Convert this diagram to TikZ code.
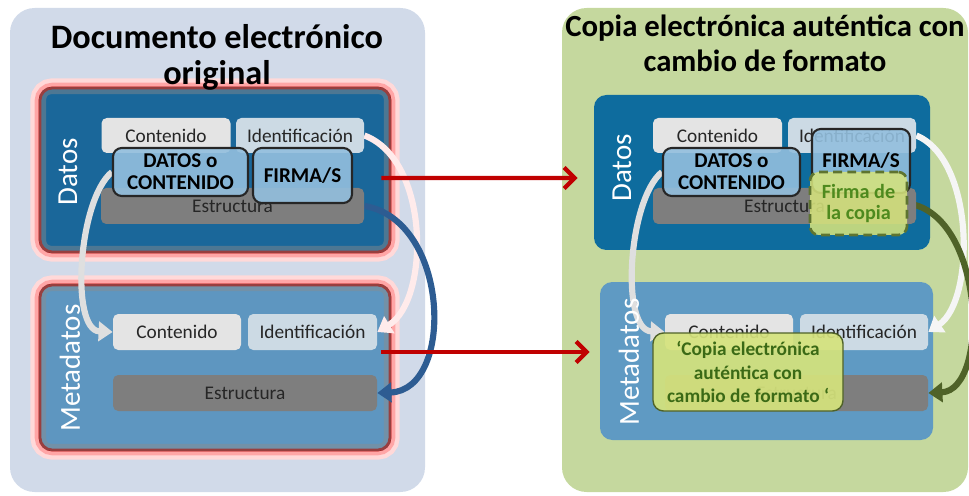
\documentclass[tikz,border=0pt]{standalone}
\usepackage{fontspec}
\setmainfont{Carlito}
\usetikzlibrary{arrows.meta,positioning}

\pgfdeclarelayer{back}
\pgfdeclarelayer{arcs}
\pgfsetlayers{back,arcs,main}

\definecolor{panelL}{HTML}{D1DAE9}
\definecolor{panelR}{HTML}{C5D89E}
\definecolor{datosL}{HTML}{1A679A}
\definecolor{metaL}{HTML}{5E96C0}
\definecolor{datosR}{HTML}{0E6C9E}
\definecolor{metaR}{HTML}{5F9AC3}
\definecolor{contgray}{HTML}{E4E4E4}
\definecolor{identblue}{HTML}{CCDAE4}
\definecolor{estrgray}{HTML}{7E7E7E}
\definecolor{datoblue}{HTML}{93BFDE}
\definecolor{redline}{HTML}{C00000}
\definecolor{sigfill}{HTML}{D5E37C}
\definecolor{sigline}{HTML}{5E7430}
\definecolor{sigtext}{HTML}{4E8A1E}
\definecolor{notetext}{HTML}{3B6A16}
\definecolor{bluearc}{HTML}{2D5C92}
\definecolor{greenarc}{HTML}{4F6228}

\tikzset{
  wh/.style 2 args={minimum width=#1*0.02cm, minimum height=#2*0.02cm},
  panel/.style={rounded corners=14pt, inner sep=0pt},
  title/.style={font=\bfseries, align=center, anchor=base, inner sep=0pt},
  redbox/.style={rounded corners=7pt, inner sep=0pt, draw=redline!85!black, line width=1.6pt,
    preaction={draw=red!15, line width=11pt},
    preaction={draw=red!35, line width=6pt}},
  ring/.style={draw=black!45, opacity=0.45, line width=4pt, rounded corners=5pt},
  flatbox/.style={rounded corners=7pt, inner sep=0pt},
  side/.style={rotate=90, text=white, font=\fontsize{16.5}{18}\selectfont, inner sep=0pt},
  box/.style={rounded corners=3pt, inner sep=0pt, text=black!85, font=\fontsize{11}{13}\selectfont},
  cont/.style={box, fill=contgray},
  ident/.style={box, fill=identblue},
  estr/.style={box, fill=estrgray},
  bigbox/.style={rounded corners=5pt, draw=black!85, line width=1.2pt, fill=datoblue,
    fill opacity=0.9, text opacity=1, align=center, inner sep=0pt,
    font=\bfseries\fontsize{12}{12.5}\selectfont},
  newsig/.style={rounded corners=5pt, draw=sigline, dashed, dash pattern=on 5pt off 3pt,
    line width=1.5pt, fill=sigfill, fill opacity=0.88, text opacity=1, text=sigtext,
    align=center, inner sep=0pt, font=\bfseries\fontsize{11.5}{12.5}\selectfont},
  newmeta/.style={rounded corners=6pt, draw=greenarc, line width=0.8pt, fill=sigfill,
    fill opacity=0.92, text opacity=1, text=notetext, align=center, inner sep=0pt,
    font=\bfseries\fontsize{11}{13.3}\selectfont},
  arc/.style={line width=3.5pt, -{Triangle[length=8pt,width=11pt]}},
  redarrow/.style={draw=redline, line width=2.4pt, -{Straight Barb[length=6pt,width=12pt]}}
}

\begin{document}
\begin{tikzpicture}[x=0.02cm, y=-0.02cm]
\useasboundingbox (0,0) rectangle (969,496);

\begin{pgfonlayer}{back}
% the two documents
\node[panel, fill=panelL, wh={415}{484}] (lpanel) at (217.5,250) {};
\node[panel, fill=panelR, wh={406}{484}] (rpanel) at (765,250) {};

% data and metadata containers
\node[redbox, fill=datosL, wh={350}{164}] (ldat) at (215,170) {};
\node[redbox, fill=metaL, wh={350}{165}] (lmeta) at (215,367.5) {};
\draw[ring] ([shift={(4,4)}]ldat.north west) rectangle ([shift={(-4,-4)}]ldat.south east);
\draw[ring] ([shift={(4,4)}]lmeta.north west) rectangle ([shift={(-4,-4)}]lmeta.south east);
\node[flatbox, fill=datosR, wh={336}{155}] (rdat) at (762,172.5) {};
\node[flatbox, fill=metaR, wh={333}{158}] (rmeta) at (766.5,361) {};
\end{pgfonlayer}

% titles
\node[title, font=\bfseries\fontsize{19.5}{21}\selectfont] (ltitle) at (217,85) {Documento electrónico\\original};
\node[title, font=\bfseries\fontsize{17.5}{20.4}\selectfont] (rtitle) at (765,72) {Copia electrónica auténtica con\\cambio de formato};

% side labels
\node[side] (ldatlab) at (68,172) {Datos};
\node[side] (lmetlab) at (70,368) {Metadatos};
\node[side] (rdatlab) at (622,168) {Datos};
\node[side] (rmetlab) at (629,362) {Metadatos};

% original: data
\node[cont, wh={129}{35}] (lcont) at (166,135.5) {Contenido};
\node[ident, wh={128}{35}] (lident) at (300,135.5) {Identificación};
\node[estr, wh={263}{36}] (lestr) at (232.5,206) {Estructura};
\node[bigbox, wh={135}{48}] (ldc) at (180.5,172) {DATOS o\\CONTENIDO};
\node[bigbox, wh={99}{55}] (lfir) at (302.5,175.5) {FIRMA/S};

% original: metadata
\node[cont, wh={128}{36}] (lmcont) at (177,332) {Contenido};
\node[ident, wh={129}{36}] (lmident) at (312.5,332) {Identificación};
\node[estr, wh={264}{36}] (lmestr) at (245,393) {Estructura};

% copy: data
\node[cont, wh={129}{35}] (rcont) at (717.5,135.5) {Contenido};
\node[ident, wh={128}{35}] (rident) at (852,135.5) {Identificación};
\node[estr, wh={263}{36}] (restr) at (784.5,206) {Estructura};
\node[bigbox, wh={137}{48}] (rdc) at (731.5,172) {DATOS o\\CONTENIDO};
\node[bigbox, wh={98}{64}] (rfir) at (861,161) {FIRMA/S};
\node[newsig, wh={97}{63}] (rsig) at (858.5,203.5) {Firma de\\la copia};

% copy: metadata
\node[cont, wh={128}{36}] (rmcont) at (729,332) {Contenido};
\node[ident, wh={128}{36}] (rmident) at (864,332) {Identificación};
\node[estr, wh={263}{36}] (rmestr) at (796.5,393) {Estructura};

% arcs from data to metadata
\begin{pgfonlayer}{arcs}
\draw[arc, draw=gray!25] (ldc.west) .. controls (78,200) and (70,330) .. (lmcont.west);
\draw[arc, draw=red!8] (lident.east) .. controls (430,160) and (430,300) .. (lmident.east);
\draw[arc, draw=bluearc] (lestr.east) .. controls (450,220) and (455,390) .. (lmestr.east);
\draw[arc, draw=gray!25] (rdc.west) .. controls (628,200) and (620,330) .. (rmcont.west);
\draw[arc, draw=white!92!gray] (rident.east) .. controls (975,160) and (975,300) .. (rmident.east);
\draw[arc, draw=greenarc] (rsig.east) .. controls (985,215) and (990,390) .. (rmestr.east);
\end{pgfonlayer}

% note on the copy metadata
\node[newmeta, wh={190}{78}] (rnote) at (748,372) {‘Copia electrónica\\auténtica con\\cambio de formato ‘};

% conversion arrows
\draw[redarrow] ([shift={(-10,8)}]ldat.east) -- ([shift={(-16,5.5)}]rdat.west);
\draw[redarrow] ([shift={(-10,-15.5)}]lmeta.east) -- ([shift={(-10,-9)}]rmeta.west);

\end{tikzpicture}
\end{document}
